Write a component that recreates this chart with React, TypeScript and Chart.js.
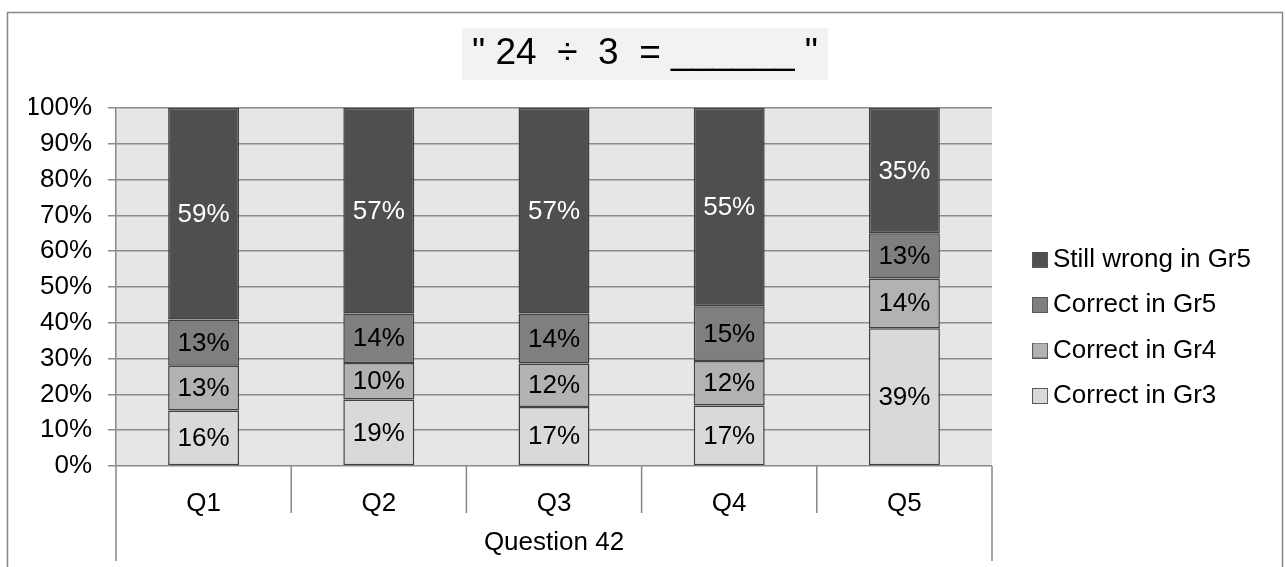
import React, { useEffect, useRef } from 'react';
import { Chart, registerables } from 'chart.js';

Chart.register(...registerables);

const categories = ['Q1', 'Q2', 'Q3', 'Q4', 'Q5'];
const groupLabel = 'Question 42';
const chartTitle = '" 24  ÷  3  = ______ "';
const seriesLabels = ['Correct in Gr3', 'Correct in Gr4', 'Correct in Gr5', 'Still wrong in Gr5'];
const correctGr3 = [15.5, 18.6, 16.5, 16.9, 38.5];
const correctGr4 = [12.5, 10.2, 12.1, 12.4, 13.9];
const correctGr5 = [12.9, 13.8, 14.0, 15.3, 12.6];
const stillWrongGr5 = [59.1, 57.4, 57.4, 55.4, 35.0];
const yMin = 0;
const yMax = 100;
const yStep = 10;

const FONT = '"Liberation Sans", Arial, sans-serif';
const FS = 26;
const TITLE_FS = 37;
const W = 1285;
const H = 567;
const seriesColors = ['#d9d9d9', '#b2b2b2', '#7f7f7f', '#4f4f4f'];
const labelColors = ['#000000', '#000000', '#000000', '#ffffff'];

const framePlugin = {
  id: 'frame',
  beforeDraw(chart: any) {
    const { ctx, chartArea } = chart;
    ctx.save();
    ctx.strokeStyle = '#878787';
    ctx.lineWidth = 1.5;
    ctx.beginPath();
    ctx.moveTo(7.5, H + 20);
    ctx.lineTo(7.5, 12.5);
    ctx.lineTo(W - 2.5, 12.5);
    ctx.lineTo(W - 2.5, H + 20);
    ctx.stroke();
    ctx.fillStyle = '#e6e6e6';
    ctx.fillRect(chartArea.left, chartArea.top, chartArea.right - chartArea.left, chartArea.bottom - chartArea.top);
    const tb = chart.titleBlock;
    ctx.font = `${TITLE_FS}px ${FONT}`;
    const tw = ctx.measureText(chartTitle).width;
    const cx = (tb.left + tb.right) / 2;
    const cy = tb.top + tb.height / 2;
    ctx.fillStyle = '#f2f2f2';
    ctx.fillRect(cx - tw / 2 - 10, cy - 26, tw + 20, 52);
    ctx.restore();
  },
};

const categoryPlugin = {
  id: 'categoryFrame',
  afterDraw(chart: any) {
    const { ctx, chartArea } = chart;
    const xs = chart.scales.x;
    const n = categories.length;
    const half = (xs.getPixelForValue(1) - xs.getPixelForValue(0)) / 2;
    ctx.save();
    ctx.strokeStyle = '#878787';
    ctx.lineWidth = 1.5;
    for (let i = 0; i <= n; i++) {
      const x = i < n ? xs.getPixelForValue(i) - half : xs.getPixelForValue(n - 1) + half;
      const outer = i === 0 || i === n;
      ctx.beginPath();
      ctx.moveTo(x, chartArea.bottom);
      ctx.lineTo(x, chartArea.bottom + (outer ? 95 : 47));
      ctx.stroke();
    }
    ctx.fillStyle = '#000';
    ctx.font = `${FS}px ${FONT}`;
    ctx.textAlign = 'center';
    ctx.textBaseline = 'middle';
    ctx.fillText(groupLabel, (xs.left + xs.right) / 2, chartArea.bottom + 77);
    ctx.restore();
  },
};

const valueLabelPlugin = {
  id: 'valueLabels',
  afterDatasetsDraw(chart: any) {
    const { ctx } = chart;
    ctx.save();
    ctx.font = `${FS}px ${FONT}`;
    ctx.textAlign = 'center';
    ctx.textBaseline = 'middle';
    chart.data.datasets.forEach((ds: any, di: number) => {
      const meta = chart.getDatasetMeta(di);
      meta.data.forEach((el: any, i: number) => {
        const v = ds.data[i];
        ctx.fillStyle = labelColors[di];
        ctx.fillText(Math.round(v) + '%', el.x, (el.y + el.base) / 2 + 1);
      });
    });
    ctx.restore();
  },
};

function makeSwatch(color: string) {
  const c = document.createElement('canvas');
  c.width = 16;
  c.height = 16;
  const g = c.getContext('2d') as CanvasRenderingContext2D;
  g.fillStyle = color;
  g.fillRect(0, 0, 16, 16);
  g.strokeStyle = '#5a5a5a';
  g.lineWidth = 1;
  g.strokeRect(0.5, 0.5, 15, 15);
  return c;
}

export default function App() {
  const ref = useRef<HTMLCanvasElement | null>(null);

  useEffect(() => {
    const canvas = ref.current;
    if (!canvas) return;
    const mctx = canvas.getContext('2d') as CanvasRenderingContext2D;
    mctx.font = `${FS}px ${FONT}`;
    const widest = Math.max(...seriesLabels.map((s) => mctx.measureText(s).width));
    const legendPad = 45.5 - FS;
    const psw = 0.01;
    const legendItemX = 1040;
    const legendLeft = legendItemX - legendPad;
    const legendWidth = legendPad + psw + FS / 2 + widest + 10;
    const padRight = W - (legendLeft + legendWidth);
    const padLeft = padRight + 5;
    const plotLeft = 116;
    const plotRight = 992;
    const swatches = seriesColors.map(makeSwatch);

    const datasets = [correctGr3, correctGr4, correctGr5, stillWrongGr5].map((d, i) => ({
      label: seriesLabels[i],
      data: d,
      backgroundColor: seriesColors[i],
      borderColor: '#404040',
      borderWidth: 1.5,
      borderSkipped: false,
      barPercentage: 0.405,
      categoryPercentage: 1,
    }));

    const chart = new Chart(canvas, {
      type: 'bar',
      data: { labels: categories, datasets },
      plugins: [framePlugin, categoryPlugin, valueLabelPlugin],
      options: {
        animation: false,
        responsive: false,
        devicePixelRatio: 1,
        color: '#000',
        font: { family: FONT, size: FS },
        layout: { padding: { left: padLeft, right: padRight, top: 0, bottom: 0 } },
        plugins: {
          title: {
            display: true,
            text: chartTitle,
            color: '#000',
            font: { family: FONT, size: TITLE_FS, weight: 'normal' },
            padding: { top: 54 - (TITLE_FS * 1.2) / 2, bottom: 54 - (TITLE_FS * 1.2) / 2 },
          },
          legend: {
            position: 'right',
            reverse: true,
            maxWidth: 600,
            title: { display: true, text: ' ', font: { size: 10 }, padding: { top: 76.5, bottom: 0 } },
            labels: {
              color: '#000',
              font: { family: FONT, size: FS },
              usePointStyle: true,
              pointStyleWidth: psw,
              boxWidth: 16,
              boxHeight: 16,
              padding: legendPad,
              generateLabels: (ch: any) => {
                const items = (Chart.defaults as any).plugins.legend.labels.generateLabels(ch);
                return items.map((it: any) => ({ ...it, pointStyle: swatches[it.datasetIndex] }));
              },
            },
          },
          tooltip: { enabled: false },
        },
        scales: {
          x: {
            stacked: true,
            grid: { display: false },
            border: { display: false },
            ticks: { color: '#000', font: { family: FONT, size: FS }, padding: 14, maxRotation: 0, autoSkip: false },
            afterFit: (s: any) => {
              s.height = H - 466;
            },
          },
          y: {
            stacked: true,
            min: yMin,
            max: yMax,
            ticks: {
              stepSize: yStep,
              color: '#000',
              font: { family: FONT, size: FS },
              padding: 16,
              callback: (v: any) => v + '%',
            },
            grid: { color: '#8a8a8a', lineWidth: 1.5, tickLength: 8, drawTicks: true },
            border: { color: '#878787', width: 1.5 },
            afterFit: (s: any) => {
              s.width = plotLeft - padLeft;
            },
          },
          spacer: {
            position: 'right',
            display: true,
            grid: { display: false },
            border: { display: false },
            ticks: { display: false },
            afterFit: (s: any) => {
              s.width = legendLeft - plotRight;
            },
          },
        },
      } as any,
    });
    return () => chart.destroy();
  }, []);

  return (
    <div style={{ position: 'absolute', left: 0, top: 0, width: W, height: H, background: '#fff' }}>
      <canvas ref={ref} width={W} height={H} style={{ width: W, height: H, display: 'block' }} />
    </div>
  );
}
